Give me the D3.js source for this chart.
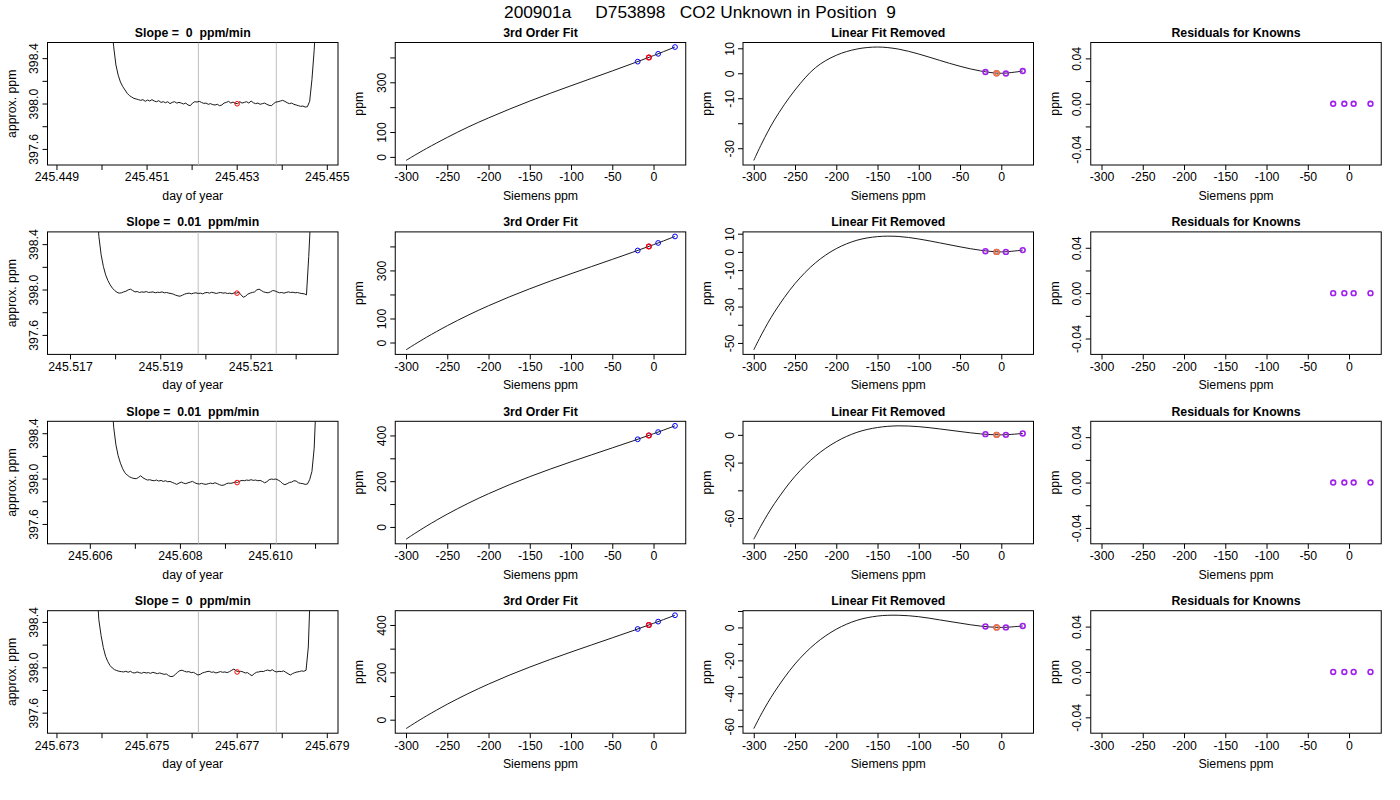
<!DOCTYPE html>
<html>
<head>
<meta charset="utf-8">
<script src="https://cdn.jsdelivr.net/npm/d3@7"></script>
<style>
	body { margin: 0; background: #fff; }
	text { font-family: "Liberation Sans", Arial, sans-serif; font-size: 12.3px; fill: #000; }
</style>
</head>
<body>
<svg id="chart" width="1400" height="800"></svg>
<script>
var mainTitle = "200901a     D753898   CO2 Unknown in Position  9";
var slopeLabels = ["0", "0.01", "0.01", "0"];

// time trace of each run (day of year), one reading per step
var traceStart = [245.45022, 245.51759, 245.60648, 245.67389];
var traceStep = 0.00005;
var traceSpan = [[245.44904, 245.45501], [245.51674, 245.52270], [245.60530, 245.61127], [245.67304, 245.67901]];
var trace1 = [398.72, 398.50, 398.34, 398.25, 398.19, 398.15, 398.12, 398.09, 398.07, 398.057,
	398.045, 398.040, 398.034, 398.028, 398.034, 398.019, 398.031, 398.022, 398.034, 398.022,
	398.016, 398.025, 398.010, 398.016, 398.007, 398.016, 397.999, 398.010, 398.016, 398.004,
	398.010, 398.004, 397.996, 398.004, 397.987, 397.981, 398.004, 398.016, 398.013, 398.019,
	398.010, 398.001, 398.004, 397.993, 397.999, 397.990, 397.987, 397.993, 397.981, 397.987,
	398.004, 398.010, 398.019, 398.004, 398.013, 398.001, 397.999, 398.016, 398.004, 398.010,
	398.016, 398.004, 398.022, 398.007, 397.999, 398.004, 397.993, 397.999, 398.004, 397.993,
	397.984, 397.981, 397.999, 398.013, 398.016, 398.022, 398.028, 398.019, 398.007, 397.999,
	398.004, 397.993, 397.987, 397.981, 397.975, 397.978, 397.969, 397.972, 398.02, 398.21,
	398.47, 398.80];
var trace2 = [398.75, 398.468, 398.306, 398.203, 398.129, 398.079, 398.041, 398.012, 397.991, 397.976,
	397.968, 397.971, 397.979, 397.985, 397.997, 398.003, 397.991, 397.979, 397.982, 397.974,
	397.979, 397.976, 397.982, 397.974, 397.976, 397.979, 397.971, 397.976, 397.974, 397.979,
	397.971, 397.974, 397.968, 397.965, 397.959, 397.950, 397.944, 397.941, 397.950, 397.959,
	397.965, 397.968, 397.962, 397.968, 397.971, 397.965, 397.968, 397.962, 397.971, 397.974,
	397.968, 397.976, 397.971, 397.965, 397.971, 397.974, 397.968, 397.971, 397.965, 397.968,
	397.962, 397.971, 397.968, 397.976, 397.953, 397.932, 397.941, 397.959, 397.968, 397.974,
	397.979, 397.997, 398.003, 397.991, 397.979, 397.974, 397.971, 397.979, 397.991, 397.988,
	397.979, 397.971, 397.974, 397.968, 397.974, 397.979, 397.974, 397.976, 397.971, 397.974,
	397.968, 397.965, 397.962, 397.953, 398.291, 398.70];
var trace3 = [398.75, 398.453, 398.297, 398.201, 398.136, 398.086, 398.051, 398.031, 398.016, 398.007,
	398.001, 397.999, 398.010, 398.025, 398.007, 397.996, 397.987, 397.990, 397.984, 397.981,
	397.987, 397.978, 397.984, 397.975, 397.981, 397.972, 397.975, 397.966, 397.958, 397.949,
	397.960, 397.969, 397.960, 397.955, 397.963, 397.969, 397.975, 397.963, 397.955, 397.952,
	397.958, 397.952, 397.949, 397.955, 397.960, 397.955, 397.963, 397.955, 397.946, 397.940,
	397.943, 397.955, 397.960, 397.958, 397.963, 397.969, 397.966, 397.978, 397.984, 397.981,
	397.987, 397.984, 397.990, 397.984, 397.987, 397.981, 397.984, 397.975, 397.963, 397.972,
	397.990, 397.996, 397.993, 397.996, 397.987, 397.975, 397.955, 397.946, 397.955, 397.966,
	397.969, 397.981, 397.978, 397.963, 397.958, 397.955, 397.949, 397.952, 397.990, 398.063,
	398.268, 398.75];
var trace4 = [398.75, 398.421, 398.282, 398.174, 398.097, 398.050, 398.015, 397.994, 397.979, 397.971,
	397.965, 397.962, 397.959, 397.965, 397.956, 397.965, 397.953, 397.950, 397.959, 397.953,
	397.947, 397.956, 397.950, 397.953, 397.947, 397.956, 397.950, 397.944, 397.950, 397.944,
	397.938, 397.941, 397.926, 397.918, 397.921, 397.938, 397.956, 397.971, 397.974, 397.965,
	397.959, 397.962, 397.953, 397.956, 397.944, 397.932, 397.938, 397.950, 397.956, 397.962,
	397.965, 397.956, 397.959, 397.950, 397.956, 397.962, 397.956, 397.959, 397.953, 397.962,
	397.974, 397.985, 397.968, 397.962, 397.965, 397.959, 397.950, 397.953, 397.938, 397.926,
	397.944, 397.956, 397.959, 397.965, 397.962, 397.971, 397.976, 397.968, 397.979, 397.965,
	397.959, 397.965, 397.962, 397.968, 397.956, 397.944, 397.932, 397.944, 397.953, 397.959,
	397.962, 397.968, 397.965, 397.974, 398.179, 398.75];
var windowTimes = [[245.45215, 245.45388], [245.51984, 245.52157], [245.60841, 245.61014], [245.67615, 245.67788]];
var unknownTime = [245.45301, 245.52070, 245.60927, 245.67701];
var unknownPpm = [397.998, 397.968, 397.965, 397.959];
var dayTicks = [
	["245.449", "245.450", "245.451", "245.452", "245.453", "245.454", "245.455"],
	["245.517", "245.518", "245.519", "245.520", "245.521", "245.522"],
	["245.606", "245.607", "245.608", "245.609", "245.610", "245.611"],
	["245.673", "245.674", "245.675", "245.676", "245.677", "245.678", "245.679"]];
var ppmTicks = [397.6, 397.8, 398.0, 398.2, 398.4];
var ppmLabels = ["397.6", "398.0", "398.4"];

// calibration curves against Siemens ppm
var siemens = [-300, -290, -275, -250, -225, -200, -175, -150, -125, -100, -75, -50, -25, 0, 26];
var fit1 = [-14.4, 5.5, 34.1, 78.3, 119.6, 156.7, 191.5, 224.5, 256.0, 286.2, 316.0, 345.8, 376.2, 407.5, 441.9];
var fit2 = [-30.6, -8.9, 22.1, 69.8, 113.3, 153.0, 189.6, 223.6, 255.7, 286.3, 316.2, 346.0, 376.1, 407.2, 441.5];
var fit3 = [-53.9, -30.0, 3.9, 55.9, 102.7, 145.2, 184.1, 219.8, 253.1, 284.7, 315.3, 345.6, 376.0, 407.5, 442.0];
var fit4 = [-37.9, -15.5, 16.3, 65.3, 109.8, 150.3, 187.7, 222.2, 254.7, 285.7, 315.8, 345.7, 375.9, 407.0, 441.1];
var resid1 = [-34.9, -27.9, -18.7, -6.7, 2.3, 7.2, 9.7, 10.5, 9.7, 7.7, 5.2, 2.8, 0.9, 0.0, 0.9];
var resid2 = [-53.8, -44.9, -33.1, -17.4, -5.9, 1.8, 6.4, 8.4, 8.5, 7.1, 5.0, 2.8, 0.9, 0.0, 1.0];
var resid3 = [-75.3, -64.3, -49.7, -29.9, -15.2, -4.9, 1.8, 5.3, 6.5, 5.9, 4.3, 2.4, 0.7, 0.0, 1.0];
var resid4 = [-61.5, -51.9, -39.3, -22.2, -9.7, -1.1, 4.3, 6.9, 7.4, 6.5, 4.6, 2.6, 0.8, 0.0, 0.9];
var knownSiemens = [-19.2, -5.7, 5.6, 26.0];
var unknownSiemens = -5.7;
var knownPpm = [[383.2, 400.1, 414.6, 441.9], [383.0, 399.9, 414.4, 441.5], [383.3, 400.2, 414.7, 442.0], [383.1, 399.7, 414.2, 441.1]];
var unknownFit = [400.1, 399.9, 400.2, 399.7];
var knownResid = [[0.5, 0.0, -0.1, 0.9], [0.4, 0.0, 0.0, 1.0], [0.5, 0.0, 0.0, 1.0], [0.6, 0.0, 0.0, 0.9]];
var unknownResid = [0.0, 0.0, 0.0, 0.0];
var knownFitResid = [[0, 0, 0, 0], [0, 0, 0, 0], [0, 0, 0, 0], [0, 0, 0, 0]];
var knownFitLimits = [-0.05, 0.05];

var siemensTicks = [-300, -250, -200, -150, -100, -50, 0];
var fitTicks = [0, 100, 200, 300, 400];
var fitLabels = [[0, 100, 300], [0, 100, 300], [0, 200, 400], [0, 200, 400]];
var residTicks = [[10, 0, -10, -20, -30], [10, 0, -10, -20, -30, -40, -50], [0, -20, -40, -60], [10, 0, -10, -20, -30, -40, -50, -60]];
var residLabels = [[10, 0, -10, -30], [10, 0, -10, -30, -50], [0, -20, -60], [0, -20, -40, -60]];
var knownResidTicks = [-0.04, -0.02, 0, 0.02, 0.04];
var knownResidLabels = ["-0.04", "0.00", "0.04"];

var traces = [trace1, trace2, trace3, trace4];
var fits = [fit1, fit2, fit3, fit4];
var resids = [resid1, resid2, resid3, resid4];

var svg = d3.select("#chart");
var colLeft = [47.5, 395.25, 743, 1090.75];
var rowTop = [42.5, 231.9, 421.3, 610.7];
var pw = 290.5, ph = 122.5;

svg.append("text")
	.attr("x", 700).attr("y", 17.5)
	.attr("text-anchor", "middle")
	.style("font-size", "17.3px")
	.style("white-space", "pre")
	.text(mainTitle);

// R style 4% padding of a range
function pad(ext) {
	var d = (ext[1] - ext[0]) * 0.04;
	return [ext[0] - d, ext[1] + d];
}

function panel(r, c, title, xlab, ylab, x, y, xticks, xfmt, yticks, yfmt) {
	var left = colLeft[c], top = rowTop[r];
	x.range([left, left + pw]);
	y.range([top + ph, top]);
	var g = svg.append("g");
	var id = "clip_" + r + "_" + c;
	g.append("clipPath").attr("id", id)
		.append("rect").attr("x", left).attr("y", top).attr("width", pw).attr("height", ph);

	g.append("text")
		.attr("x", left + pw / 2).attr("y", top - 5.5)
		.attr("text-anchor", "middle")
		.style("font-weight", "bold")
		.style("white-space", "pre")
		.text(title);

	var ax = g.append("g")
		.attr("transform", "translate(0," + (top + ph) + ")")
		.call(d3.axisBottom(x).tickValues(xticks).tickFormat(xfmt).tickSize(5).tickPadding(2.7));
	ax.select(".domain").remove();

	var ay = g.append("g")
		.attr("transform", "translate(" + left + ",0)")
		.call(d3.axisLeft(y).tickValues(yticks).tickFormat(yfmt).tickSize(5));
	ay.select(".domain").remove();
	ay.selectAll("text")
		.attr("x", 0).attr("y", -9.5).attr("dy", 0)
		.attr("transform", "rotate(-90)")
		.attr("text-anchor", "middle");

	g.selectAll(".tick line").attr("stroke", "#000");
	ax.attr("font-size", null).attr("font-family", null);
	ay.attr("font-size", null).attr("font-family", null);

	g.append("text")
		.attr("x", left + pw / 2).attr("y", top + ph + 34.7)
		.attr("text-anchor", "middle")
		.text(xlab);
	g.append("text")
		.attr("transform", "translate(" + (left - 32) + "," + (top + ph / 2) + ") rotate(-90)")
		.attr("text-anchor", "middle")
		.text(ylab);

	g.append("rect")
		.attr("x", left).attr("y", top).attr("width", pw).attr("height", ph)
		.attr("fill", "none").attr("stroke", "#000").attr("stroke-width", 1);

	return g.append("g").attr("clip-path", "url(#" + id + ")");
}

function circles(g, xs, ys, x, y, color, r, w) {
	g.selectAll(null).data(xs).enter().append("circle")
		.attr("cx", function(d) { return x(d); })
		.attr("cy", function(d, i) { return y(ys[i]); })
		.attr("r", r)
		.attr("fill", "none")
		.attr("stroke", color)
		.attr("stroke-width", w);
}

var smooth = d3.curveCatmullRom.alpha(0.5);

for (var r = 0; r < 4; r++) {
	// column 1: time trace
	var x1 = d3.scaleLinear().domain(pad(traceSpan[r]));
	var y1 = d3.scaleLinear().domain(pad([unknownPpm[r] - 0.5, unknownPpm[r] + 0.5]));
	var labs = dayTicks[r];
	var m1 = panel(r, 0, "Slope =  " + slopeLabels[r] + "  ppm/min", "day of year", "approx. ppm", x1, y1,
		labs.map(Number), function(d, i) { return i % 2 == 0 ? labs[i] : ""; },
		ppmTicks, function(d) { var s = d.toFixed(1); return ppmLabels.indexOf(s) >= 0 ? s : ""; });

	m1.selectAll(null).data(windowTimes[r]).enter().append("line")
		.attr("x1", function(d) { return x1(d); }).attr("x2", function(d) { return x1(d); })
		.attr("y1", y1.range()[0]).attr("y2", y1.range()[1])
		.attr("stroke", "#BEBEBE").attr("stroke-width", 1);

	var start = traceStart[r];
	m1.append("path")
		.datum(traces[r])
		.attr("fill", "none").attr("stroke", "#1a1a1a").attr("stroke-width", 1)
		.attr("d", d3.line()
			.x(function(d, i) { return x1(start + i * traceStep); })
			.y(function(d) { return y1(d); }));

	circles(m1, [unknownTime[r]], [unknownPpm[r]], x1, y1, "#FF0000", 2.3, 1);

	// column 2: 3rd order fit
	var x2 = d3.scaleLinear().domain(pad(d3.extent(siemens)));
	var y2 = d3.scaleLinear().domain(pad(d3.extent(fits[r].concat(knownPpm[r]))));
	var fl = fitLabels[r];
	var m2 = panel(r, 1, "3rd Order Fit", "Siemens ppm", "ppm", x2, y2,
		siemensTicks, function(d) { return String(d); },
		fitTicks, function(d) { return fl.indexOf(d) >= 0 ? String(d) : ""; });
	var fitData = fits[r];
	m2.append("path")
		.datum(siemens)
		.attr("fill", "none").attr("stroke", "#1a1a1a").attr("stroke-width", 1)
		.attr("d", d3.line().curve(smooth)
			.x(function(d) { return x2(d); })
			.y(function(d, i) { return y2(fitData[i]); }));
	circles(m2, knownSiemens, knownPpm[r], x2, y2, "#0000FF", 2.4, 1);
	circles(m2, [unknownSiemens], [unknownFit[r]], x2, y2, "#FF0000", 2.4, 1.2);

	// column 3: linear fit removed
	var x3 = d3.scaleLinear().domain(pad(d3.extent(siemens)));
	var y3 = d3.scaleLinear().domain(pad(d3.extent(resids[r].concat(knownResid[r]))));
	var rl = residLabels[r];
	var m3 = panel(r, 2, "Linear Fit Removed", "Siemens ppm", "ppm", x3, y3,
		siemensTicks, function(d) { return String(d); },
		residTicks[r], function(d) { return rl.indexOf(d) >= 0 ? String(d) : ""; });
	var resData = resids[r];
	m3.append("path")
		.datum(siemens)
		.attr("fill", "none").attr("stroke", "#1a1a1a").attr("stroke-width", 1)
		.attr("d", d3.line().curve(smooth)
			.x(function(d) { return x3(d); })
			.y(function(d, i) { return y3(resData[i]); }));
	circles(m3, knownSiemens, knownResid[r], x3, y3, "#A020F0", 2.4, 1.6);
	circles(m3, [unknownSiemens], [unknownResid[r]], x3, y3, "#F07A30", 2.4, 1.6);

	// column 4: residuals for knowns
	var x4 = d3.scaleLinear().domain(pad(d3.extent(siemens)));
	var y4 = d3.scaleLinear().domain(pad(knownFitLimits));
	var m4 = panel(r, 3, "Residuals for Knowns", "Siemens ppm", "ppm", x4, y4,
		siemensTicks, function(d) { return String(d); },
		knownResidTicks, function(d) {
			var s = d.toFixed(2);
			return knownResidLabels.indexOf(s) >= 0 ? s : "";
		});
	circles(m4, knownSiemens, knownFitResid[r], x4, y4, "#A020F0", 2.4, 1.6);
}
</script>
</body>
</html>
